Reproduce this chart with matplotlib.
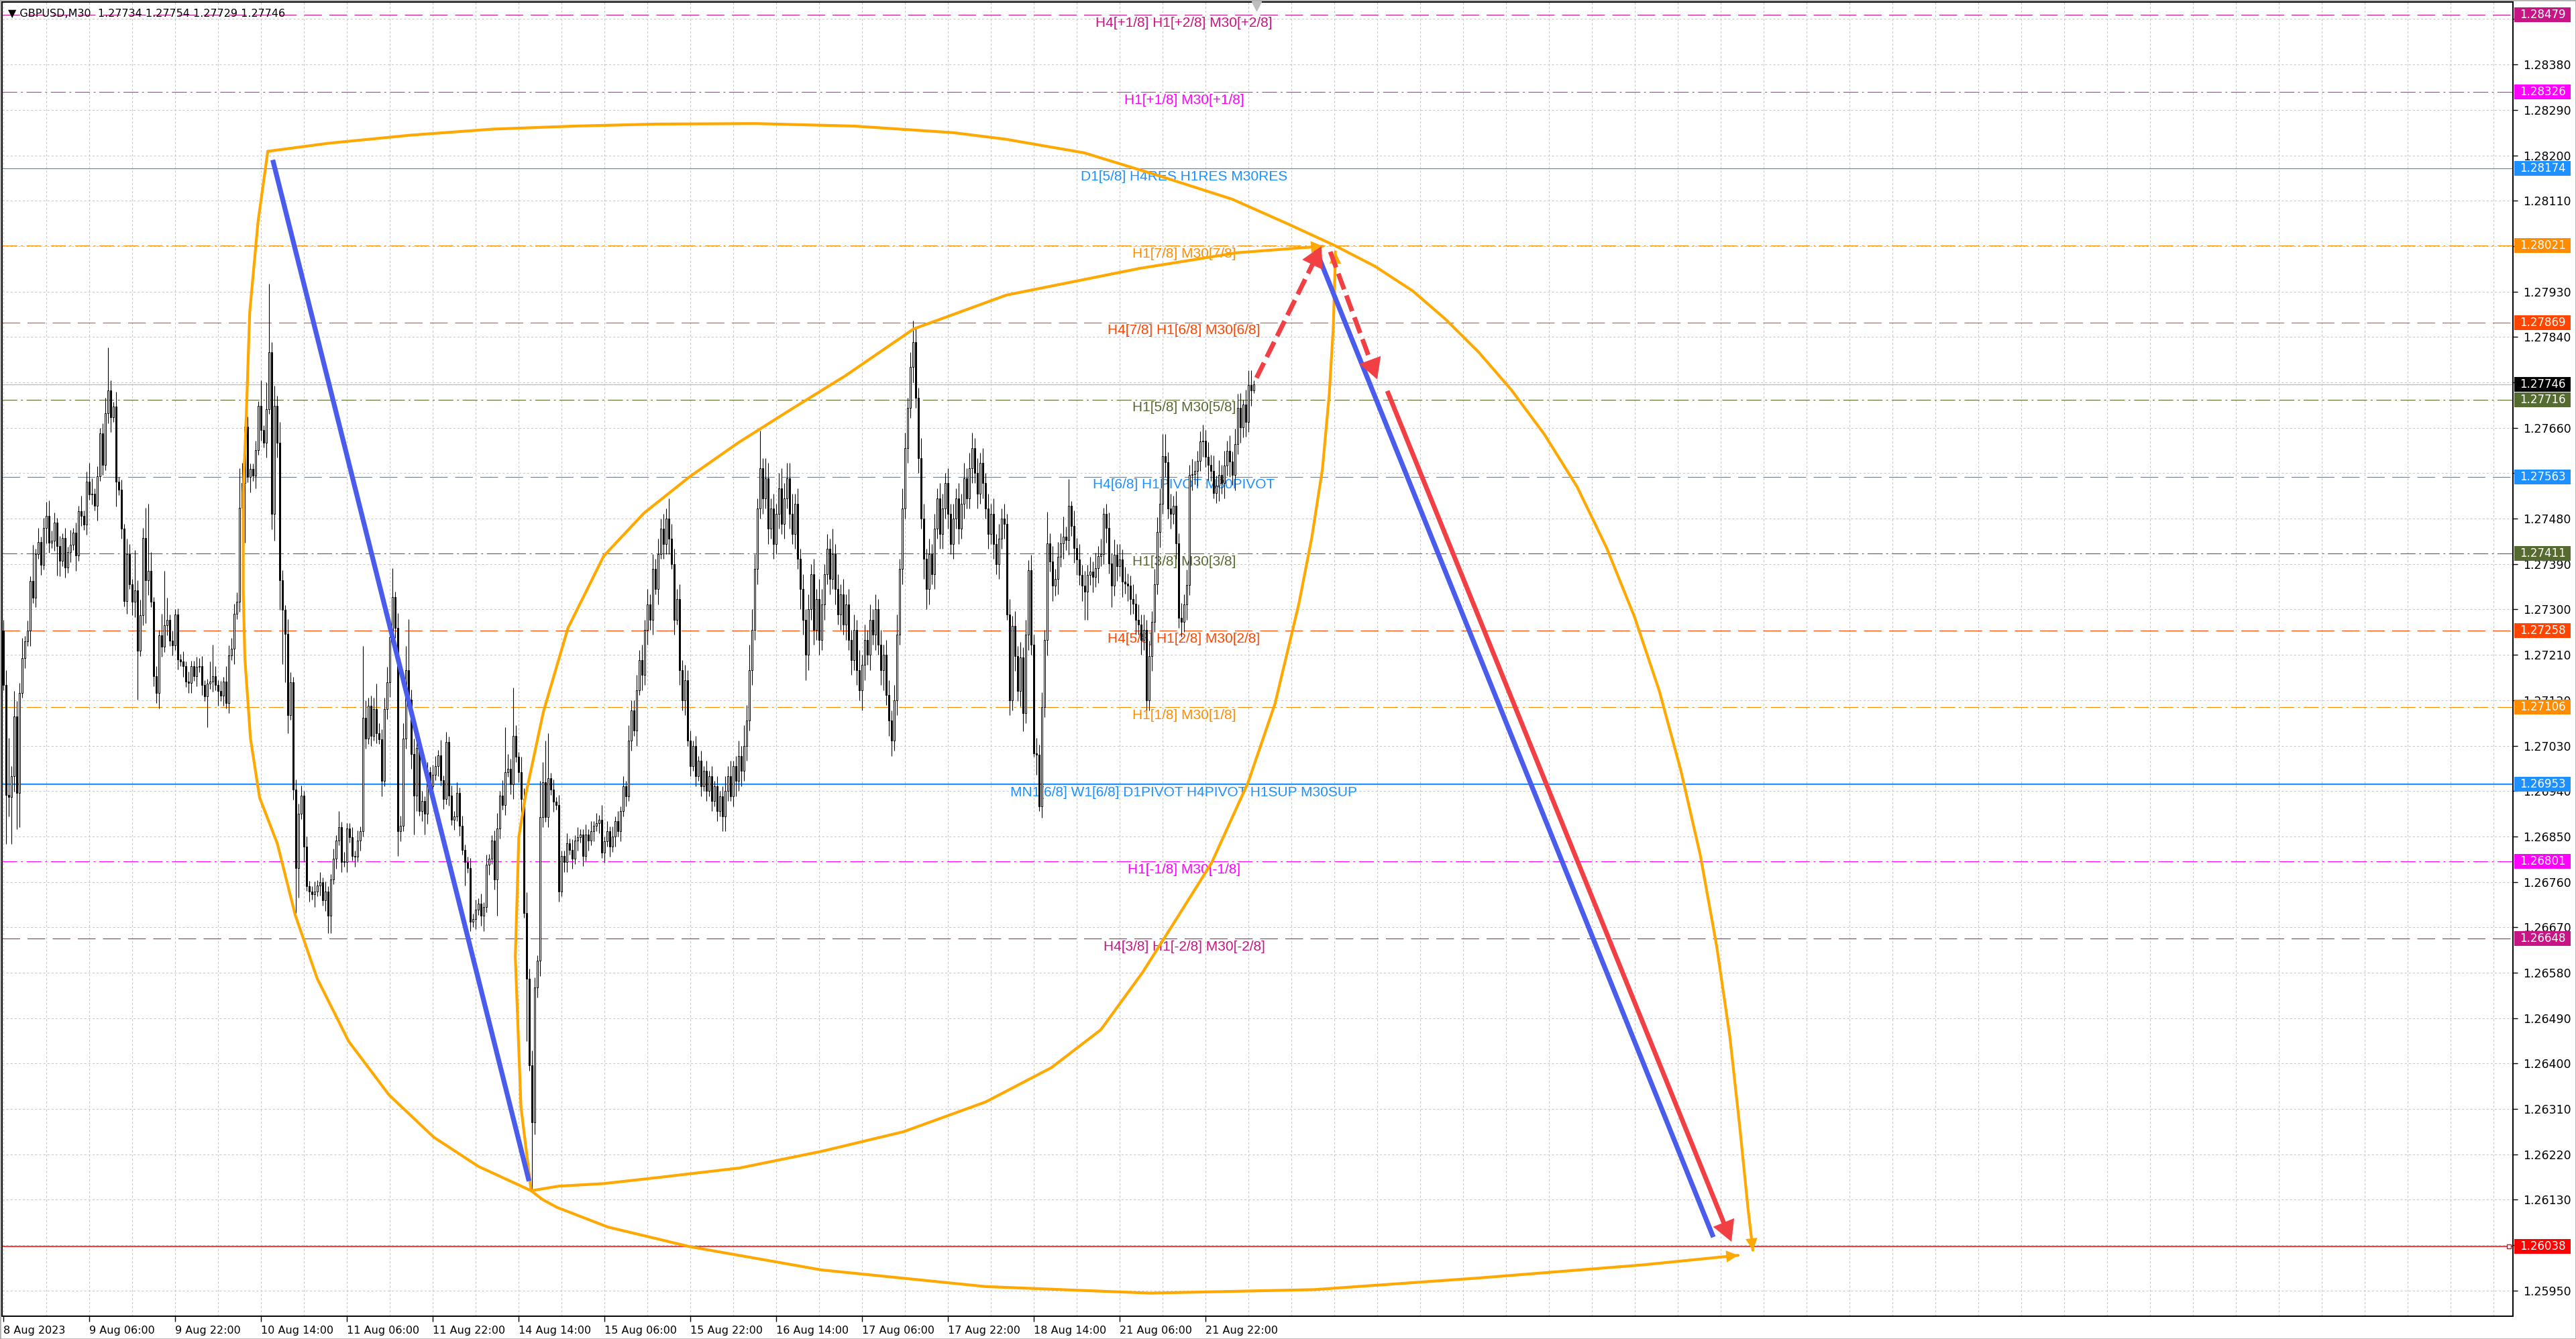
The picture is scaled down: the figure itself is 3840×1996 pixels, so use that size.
import matplotlib
matplotlib.use("Agg")
import matplotlib.pyplot as plt
import matplotlib.transforms as mtransforms
from matplotlib.patches import Rectangle
import numpy as np

plt.rcParams['font.family'] = ['DejaVu Sans']
plt.rcParams['lines.scale_dashes'] = False

# GBPUSD M30 bars from 8 Aug 2023 14:00, closes in pips above 1.2600
close_pips = [
    115.0, 93.3, 92.9, 96.9, 108.8, 93.6, 113.5, 120.4, 123.7, 125.8,
    135.6, 132.3, 141.0, 143.4, 138.9, 146.1, 148.6, 143.2, 143.6, 147.2,
    142.6, 139.6, 144.1, 138.3, 141.4, 142.8, 145.2, 140.7, 149.5, 148.6,
    146.8, 155.3, 152.8, 153.0, 150.6, 156.4, 164.9, 158.6, 168.9, 173.4,
    168.1, 170.2, 155.3, 153.7, 146.0, 131.6, 141.0, 135.0, 131.5, 133.8,
    121.8, 128.9, 144.1, 135.8, 137.6, 131.5, 116.8, 113.4, 124.9, 122.6,
    126.9, 128.0, 123.8, 122.9, 129.0, 120.1, 119.7, 118.7, 115.7, 115.5,
    118.8, 116.8, 118.6, 118.8, 115.0, 112.8, 115.3, 115.7, 116.8, 115.0,
    113.9, 112.9, 115.7, 111.4, 120.9, 122.2, 129.1, 131.5, 150.1, 155.0,
    166.2, 156.2, 157.9, 156.5, 161.6, 170.3, 165.5, 163.1, 169.7, 181.0,
    148.9, 170.3, 163.1, 135.8, 129.9, 125.1, 109.1, 115.6, 94.3, 78.8,
    89.5, 93.1, 83.0, 75.2, 74.1, 73.5, 74.1, 75.3, 75.9, 72.3,
    74.1, 69.3, 76.5, 80.6, 84.2, 86.9, 80.0, 80.0, 86.6, 84.8,
    81.2, 81.0, 84.2, 86.0, 108.5, 104.4, 110.9, 105.0, 110.3, 105.5,
    104.3, 96.0, 110.3, 115.6, 124.5, 132.5, 126.3, 86.0, 87.1, 104.4,
    118.0, 112.1, 101.4, 93.1, 102.6, 90.1, 92.0, 89.5, 97.8, 94.9,
    97.2, 99.0, 101.1, 96.1, 92.4, 103.8, 93.1, 88.3, 89.0, 93.7,
    87.1, 82.4, 80.0, 78.8, 68.1, 68.7, 70.5, 71.7, 69.3, 71.0,
    79.4, 80.6, 84.2, 76.5, 86.6, 93.1, 91.3, 97.8, 98.4, 95.4,
    105.0, 100.8, 97.8, 92.5, 69.9, 56.8, 39.6, 28.3, 55.1, 60.4,
    88.9, 95.7, 88.9, 96.6, 94.3, 91.9, 91.3, 74.1, 81.2, 80.0,
    83.6, 82.4, 80.6, 84.2, 84.8, 85.4, 81.2, 85.4, 84.2, 86.0,
    87.1, 87.7, 88.3, 81.8, 84, 86, 83, 85, 88, 86,
    90, 95, 93, 104, 110, 106, 114, 120, 117, 126,
    131, 128, 138, 134, 141, 146, 143, 148, 144, 139,
    128, 132, 118, 112, 116, 104, 99, 103, 97, 100,
    95, 98, 94, 97, 92, 95, 90, 93, 89, 94,
    97, 93, 99, 96, 101, 98, 103, 108, 118, 126,
    138, 150, 158, 152, 156, 146, 150, 143, 149, 154,
    147, 152, 156, 149, 145, 151, 140, 134, 128, 121,
    130, 137, 126, 132, 124, 131, 137, 142, 136, 141,
    134, 129, 133, 127, 131, 124, 120, 126, 118, 114,
    119, 124, 121, 128, 125, 130, 123, 118, 121, 113,
    108, 104, 112, 125, 138, 150, 162, 170, 178, 183,
    172, 160, 148, 140, 134, 141, 137, 146, 152, 145,
    150, 155, 149, 143, 148, 152, 146, 151, 156, 152,
    158, 162, 157, 153, 159, 155, 150, 145, 149, 143,
    139, 144, 148, 147, 129, 112, 126.7, 120.8, 113.8, 120.5,
    109.4, 125.0, 137.8, 123.0, 101.5, 101.2, 91.0, 110.6, 123.9, 143.1,
    139.5, 134.7, 136.0, 140.4, 143.1, 144.4, 143.8, 150.6, 146.6, 142.2,
    139.9, 136.9, 134.7, 133.5, 136.9, 137.5, 136.4, 138.2, 140.6, 141.0,
    148.9, 146.2, 139.1, 134.7, 140.9, 138.6, 139.9, 135.5, 135.1, 134.7,
    132.0, 131.1, 128.0, 127.0, 124.0, 126.0, 112.0, 120.8, 127.6, 135.0,
    145.3, 151.0, 160.4, 159.2, 150.0, 149.0, 150.5, 143.1, 128.3, 127.6,
    131.0, 134.9, 156.6, 156.8, 157.5, 159.5, 163.3, 163.5, 160.2, 158.6,
    157.5, 153.1, 154.5, 156.6, 155.0, 158.5, 161.5, 159.3, 156.6, 162.8,
    169.9, 166.1, 170.6, 167.2, 174.5, 173.4, 174.6,
]
first_open_pips = 125.8

# wick sizes in pips, one digit per bar
upper_wick = (
    "2312132412 1213121322 1212131213 1213121231 2131213212"
    "2312131213 1212121212 1121211212 1213212314 1211213123"
    "2324213212 2212112121 2112121211 2121313245 2213221323"
    "3423212121 2213121212 1211212121 2112313232 2213242321"
    "3423121211 2121211212 1213121212 1213223232 3232323243"
    "3232322121 2121212123 2312324354 3232432323 4343423232"
    "3232432323 2323232324 2323232323 3234243234 3243232323"
    "3232323232 3423232323 2323232323 2323232323 2323242323"
    "2323232323 3232323232 2323232323 3323232323 2323232323"
    "2323232323 2323232"
)
lower_wick = (
    "2132312121 3121213212 1312121312 1212131212 3121213123"
    "3121312132 1212121212 2121212121 3121213121 2131212131"
    "3231312121 3131212121 2121212121 1212121212 1312312121"
    "2132312121 2121212121 2121312123 1212121212 3123121242"
    "3212121212 2121212121 2121212121 2121213132 3231313231"
    "3132312121 2121212123 2123232323 2323232323 2323232434"
    "3232323232 3232323232 2323232342 3223232323 2324232323"
    "3232323232 2323232323 2323232323 3232342323 2323232323"
    "3232323232 2323232323 3232323232 2323232323 2323232323"
    "2323232323 2323232"
)
high_pips = {0: 128, 2: 104.5, 4: 113.9, 11: 142.8, 13: 146.1, 16: 151.3, 32: 159.1,
             39: 181.9, 49: 141.7, 52: 146.1, 53: 150.1, 54: 151, 55: 141.4, 59: 129.1,
             60: 137.6, 61: 132.3, 65: 130.2, 73: 120.3, 77: 119.7, 78: 123, 85: 124.4,
             87: 133.4, 88: 158, 94: 163.4, 96: 175.4, 98: 175, 99: 194.5, 101: 174.4,
             125: 90.1, 134: 122.8, 135: 112, 136: 112.5, 138: 112.5, 142: 112.5,
             145: 138.2, 150: 122.8, 151: 128.1, 187: 106.7, 190: 114.5, 200: 96,
             202: 104, 203: 105.5, 248: 152, 282: 165.4, 292: 159, 309: 146, 339: 187.2,
             361: 165, 389: 149.3, 397: 155.9, 398: 151.5, 410: 150.2, 432: 164.8,
             433: 164.8, 445: 161.5, 447: 166.6, 460: 172.8, 462: 171.6, 464: 177.4,
             465: 177.4, 466: 175.4}
low_pips = {0: 114, 1: 83.5, 2: 89, 3: 83.5, 5: 86.4, 6: 86.8, 12: 130.5, 20: 136.7,
            42: 150.4, 46: 129.1, 48: 128.9, 50: 112.1, 53: 127.3, 57: 111.5, 76: 106.7,
            90: 143.2, 94: 154, 101: 143.6, 103: 129.9, 104: 119.2, 105: 115.6, 106: 105.5,
            109: 69.9, 110: 72.9, 116: 71, 121: 65.8, 122: 65.8, 147: 81.2, 153: 85.4,
            157: 85.4, 172: 75.3, 174: 66.3, 184: 69.3, 195: 44.4, 197: 14.7, 198: 26,
            268: 86, 299: 116, 320: 110, 331: 101, 344: 130, 374: 128, 380: 105.9,
            384: 100.8, 386: 90.1, 387: 88.7, 403: 128, 404: 128, 413: 130.4, 426: 110.1,
            451: 152, 466: 172.9}

# x axis labels, one every 32 bars
time_labels = ["8 Aug 2023", "9 Aug 06:00", "9 Aug 22:00", "10 Aug 14:00", "11 Aug 06:00",
               "11 Aug 22:00", "14 Aug 14:00", "15 Aug 06:00", "15 Aug 22:00", "16 Aug 14:00",
               "17 Aug 06:00", "17 Aug 22:00", "18 Aug 14:00", "21 Aug 06:00", "21 Aug 22:00"]

# Murrey math levels
level_prices = [1.28479, 1.28326, 1.28174, 1.28021, 1.27869, 1.27716, 1.27563,
                1.27411, 1.27258, 1.27106, 1.26953, 1.26801, 1.26648]
level_names = ["H4[+1/8] H1[+2/8] M30[+2/8]", "H1[+1/8] M30[+1/8]",
               "D1[5/8] H4RES H1RES M30RES", "H1[7/8] M30[7/8]",
               "H4[7/8] H1[6/8] M30[6/8]", "H1[5/8] M30[5/8]",
               "H4[6/8] H1PIVOT M30PIVOT", "H1[3/8] M30[3/8]",
               "H4[5/8] H1[2/8] M30[2/8]", "H1[1/8] M30[1/8]",
               "MN1[6/8] W1[6/8] D1PIVOT H4PIVOT H1SUP M30SUP",
               "H1[-1/8] M30[-1/8]", "H4[3/8] H1[-2/8] M30[-2/8]"]
level_colors = ["#C71585", "#FF00FF", "#1E90FF", "#FF8C00", "#FF4500", "#556B2F", "#1E90FF",
                "#556B2F", "#FF4500", "#FF8C00", "#1E90FF", "#FF00FF", "#C71585"]
level_kinds = ["dash", "dashdot", "solid", "dashdot", "dash", "dashdot", "dash",
               "dashdot", "dash", "dashdot", "thick", "dashdot", "dash"]
current_price = 1.27746
target_price = 1.26038
header = "\u25bc GBPUSD,M30  1.27734 1.27754 1.27729 1.27746"

# drawn objects: (bar index, pips above 1.2600)
zigzag_down_bar, zigzag_down_pips = [100.4, 195.9], [219.1, 16.7]
zigzag_proj_bar, zigzag_proj_pips = [489.2, 637.25], [201.2, 5.6]
red_up_bar, red_up_pips = [467, 491.25], [175.9, 202.0]
red_dn_bar, red_dn_pips = [494.5, 512], [200.9, 175.6]
red_main_bar, red_main_pips = [515.75, 644], [173.3, 4.7]
arc_top_bar = [98.55, 121.2, 151.8, 182.4, 213.0, 243.7, 280.4, 317.1, 353.9, 373.5, 402.8,
               431, 458, 478.75, 495.9, 511.2, 525.3, 537.5, 549.8, 562.0, 574.3, 586.5,
               597.5, 607.9, 617.1, 625.1, 632.4, 638.5, 643.4, 647.1, 650.2, 652.0]
arc_top_pips = [220.8, 222.4, 224.0, 225.2, 225.8, 226.2, 226.3, 225.8, 224.5, 223.2, 220.5,
                215.9, 211.3, 206.4, 202.2, 198.0, 193.1, 187.5, 181.0, 173.5, 164.7, 154.3,
                142.2, 128.5, 113.9, 98.2, 81.3, 63.3, 45.4, 27.5, 11.2, 3.0]
arc_left_bar = [98.55, 94.9, 91.8, 90.6, 89.4, 89.4, 90.0, 92.1, 95.5, 102.1, 108.8, 117.0,
                128.7, 143.7, 160.4, 177.1, 196.7]
arc_left_pips = [220.8, 206.8, 188.8, 169.3, 153.0, 133.4, 120.4, 104.4, 92.7, 83.6, 69.4,
                 56.8, 44.4, 33.8, 25.4, 19.6, 14.8]
arc_bottom_bar = [196.7, 200.8, 206.3, 225.3, 255.9, 304.9, 366.1, 427.3, 488.6, 549.8,
                  611, 646.5]
arc_bottom_pips = [14.8, 13.1, 11.5, 7.6, 3.7, -0.9, -4.2, -5.5, -4.8, -2.5, 0.1, 2.0]
arc_up_bar = [196.7, 192.9, 190.8, 192.1, 194.6, 201.25, 210.4, 223.75, 238.75, 255.75,
              273.75, 292.5, 313.75, 339.25, 373.75, 423.5, 459.75, 491.75]
arc_up_pips = [14.8, 31.4, 61.1, 84.9, 93.1, 109.7, 126.3, 140.6, 149.1, 156.3, 163.0,
               169.3, 176.3, 185.6, 192.3, 197.6, 200.7, 202.0]
arc_low_bar = [196.7, 206.9, 223.5, 243.7, 274.3, 304.9, 335.5, 366.1, 390.6, 409.0, 424.6,
               437.8, 450.3, 463.8, 473.9, 482.8, 487.6, 491.6, 494.1, 495.6, 496.3, 496.4]
arc_low_pips = [14.8, 15.7, 16.2, 17.4, 19.3, 22.6, 26.5, 32.4, 39.2, 46.7, 58.1, 69.2,
                79.8, 95.6, 111.3, 131.1, 144.2, 157.9, 172.5, 185.6, 197.6, 200.9]


def px(p):
    return 1.26 + np.asarray(p, dtype=float) / 1e4


W, H = 3840, 1996
fig = plt.figure(figsize=(W / 100, H / 100), dpi=100, facecolor="white")
ax_l, ax_r, ax_t, ax_b = 3, 3746, 3, 1962
ax = fig.add_axes([ax_l / W, 1 - ax_b / H, (ax_r - ax_l) / W, (ax_b - ax_t) / H])
ax.set_facecolor("white")
ax.set_xlim(-0.5, 935.25)
y_lo, y_hi = 1.258993, 1.285039
ax.set_ylim(y_lo, y_hi)
bar_px, pip_px = 4.0, 7.522   # screen pixels per bar / per pip

# grid
for xv in np.arange(0, 936, 16):
    ax.axvline(xv, color="#C8C8C8", lw=0.75, ls=(0, (2.2, 2.2)), zorder=0.5)
yt = np.round(1.2595 + 0.0009 * np.arange(29), 5)
for yv in yt:
    ax.axhline(yv, color="#C8C8C8", lw=0.75, ls=(0, (2.2, 2.2)), zorder=0.5)

# level lines
styles = {"dash": (0, (19, 8)), "dashdot": (0, (16, 4, 2, 4)), "solid": "-", "thick": "-"}
label_bar = 440
for p, name, col, kind in zip(level_prices, level_names, level_colors, level_kinds):
    ax.axhline(p, color=col, lw=1.6 if kind == "thick" else 0.8, ls=styles[kind], zorder=1.5)
    ax.annotate(name, xy=(label_bar, p), xytext=(0, -2), textcoords="offset points",
                ha="center", va="top", color=col, fontsize=15,
                family=["Liberation Sans", "DejaVu Sans"], zorder=2)
ax.axhline(current_price, color="#BDBDBD", lw=0.9, zorder=1.5)
ax.axhline(target_price, color="red", lw=1.1, zorder=1.5)

# candles
n = len(close_pips)
c = px(close_pips)
o = np.concatenate([[px(first_open_pips)], c[:-1]])
uw = np.array([int(ch) for ch in upper_wick.replace(" ", "")] + [2] * n)[:n]
lw = np.array([int(ch) for ch in lower_wick.replace(" ", "")] + [2] * n)[:n]
hi = np.maximum(o, c) + uw / 1e4
lo = np.minimum(o, c) - lw / 1e4
for k, v in high_pips.items():
    hi[k] = max(px(v), max(o[k], c[k]))
for k, v in low_pips.items():
    lo[k] = min(px(v), min(o[k], c[k]))
xs = np.arange(n)
ax.vlines(xs, lo, hi, color="black", lw=0.8, zorder=3)
body_h = np.maximum(np.abs(c - o), 0.000014)
ax.bar(xs, body_h, bottom=np.minimum(o, c), width=0.72,
       color=np.where(c >= o, "white", "black"), edgecolor="black", linewidth=0.7, zorder=3.1)

# drawn objects
orange = "#FFA800"
for bx, by in [(arc_top_bar, arc_top_pips), (arc_left_bar, arc_left_pips),
               (arc_bottom_bar, arc_bottom_pips), (arc_up_bar, arc_up_pips),
               (arc_low_bar, arc_low_pips)]:
    ax.plot(bx, px(by), color=orange, lw=3.0, zorder=4, solid_capstyle="round",
            solid_joinstyle="round")
for bx, by in [(arc_top_bar, arc_top_pips), (arc_bottom_bar, arc_bottom_pips),
               (arc_up_bar, arc_up_pips), (arc_low_bar, arc_low_pips)]:
    ax.annotate("", xy=(bx[-1], px(by[-1])), xytext=(bx[-2], px(by[-2])),
                arrowprops=dict(arrowstyle="-|>,head_length=0.9,head_width=0.45",
                                color=orange, lw=0.1, shrinkA=0, shrinkB=0,
                                mutation_scale=14), zorder=4)

for bx, by in [(zigzag_down_bar, zigzag_down_pips), (zigzag_proj_bar, zigzag_proj_pips)]:
    ax.plot(bx, px(by), color="#4A5CEB", lw=5.2, zorder=4.2, solid_capstyle="butt")

red = "#F23F44"
for bx, by, dashed in [(red_up_bar, red_up_pips, True), (red_dn_bar, red_dn_pips, True),
                       (red_main_bar, red_main_pips, False)]:
    yy = px(by)
    length = np.hypot((bx[1] - bx[0]) * bar_px, (by[1] - by[0]) * pip_px)
    f = 1 - 24 / length
    tail = (bx[0] + f * (bx[1] - bx[0]), yy[0] + f * (yy[1] - yy[0]))
    ax.plot([bx[0], tail[0]], [yy[0], tail[1]], color=red, lw=5.0,
            ls=(0, (18, 7)) if dashed else "-", zorder=4.4, solid_capstyle="butt",
            dash_capstyle="butt")
    ax.annotate("", xy=(bx[1], yy[1]), xytext=tail,
                arrowprops=dict(arrowstyle="-|>,head_length=1.0,head_width=0.55",
                                color=red, lw=0.1, shrinkA=0, shrinkB=0,
                                mutation_scale=22), zorder=4.4)

# axes styling
for s in ax.spines.values():
    s.set_linewidth(1.4)
    s.set_color("black")
ax.yaxis.tick_right()
ax.set_yticks(yt)
tags = list(zip(level_prices, level_colors)) + [(current_price, "black"), (target_price, "red")]
tag_prices = np.array([t[0] for t in tags])
# labels fully hidden behind a price tag are not printed
ax.set_yticklabels(["" if np.min(np.abs(tag_prices - v)) * 75220 < 9 else f"{v:.5f}"
                    for v in yt])
ax.tick_params(axis="y", length=5, width=1, pad=6, labelsize=12.5, direction="out")
xt = np.arange(len(time_labels)) * 32
ax.set_xticks(xt)
ax.set_xticklabels(time_labels, ha="left")
ax.tick_params(axis="x", length=6, width=1, pad=4, labelsize=11.5, direction="out")

# price tags on the right
trans = mtransforms.blended_transform_factory(ax.transAxes, ax.transData)
box_x0 = (3748 - ax_l) / (ax_r - ax_l)
box_w = 84 / (ax_r - ax_l)
box_h = 22 / 75220
for p, col in tags:
    ax.add_patch(Rectangle((box_x0, p - box_h / 2), box_w, box_h, transform=trans,
                           facecolor=col, edgecolor="none", clip_on=False, zorder=6))
    ax.text(box_x0 + 8 / (ax_r - ax_l), p, f"{p:.5f}", transform=trans, color="white",
            va="center", ha="left", fontsize=12, zorder=7, clip_on=False)
ax.plot([0.9985], [target_price], transform=trans, marker="s", ms=4, mfc="white",
        mec="red", mew=1, clip_on=False, zorder=5)

# chart shift marker and header
ax.plot([467], [y_hi - 6 / 75220], marker="v", ms=10, color="#BEBEBE", clip_on=False,
        zorder=8)
ax.text(0.0025, 1 - 17 / (ax_b - ax_t), header, transform=ax.transAxes, fontsize=11.5,
        va="center", ha="left", zorder=8)

fig.patches.append(Rectangle((0, 0), 1, 1, transform=fig.transFigure, fill=False,
                             edgecolor="#B0B0B0", lw=2))
fig.savefig("out.png", dpi=100, facecolor="white")
